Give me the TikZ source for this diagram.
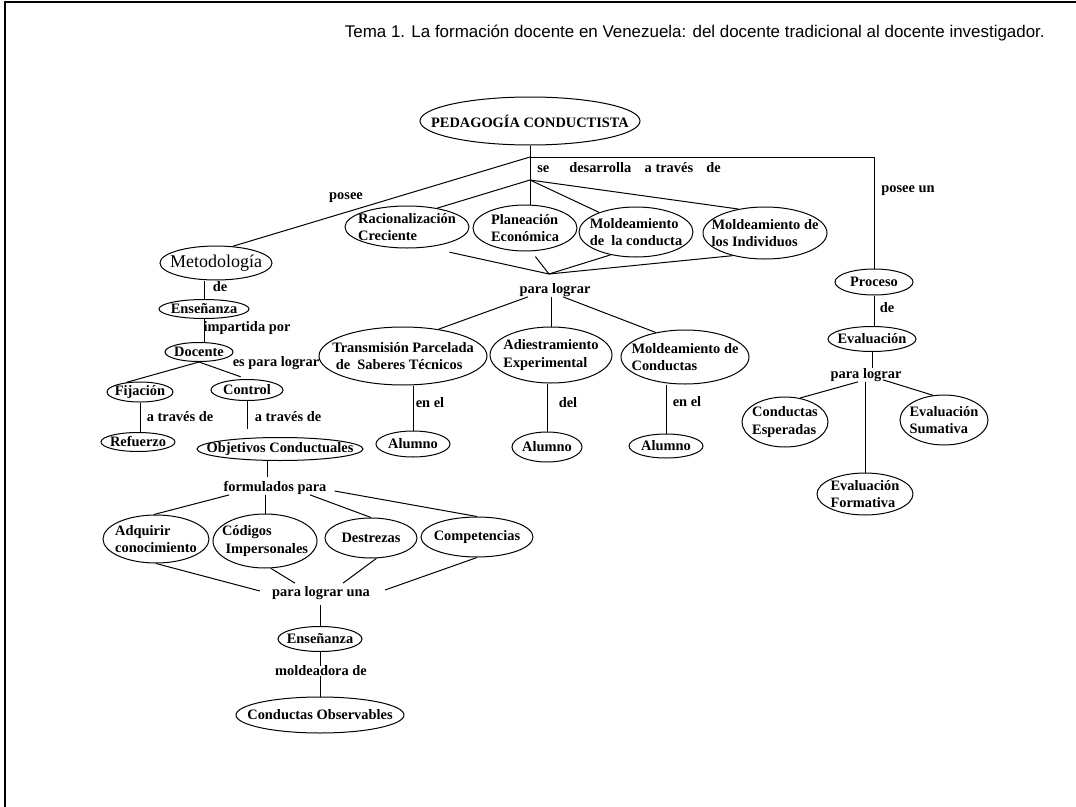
\documentclass[tikz,border=0pt]{standalone}
\usepackage{fontspec}
\setmainfont{Liberation Serif}
\newfontfamily\titlefont{Liberation Sans}
\usetikzlibrary{shapes.geometric,calc}

% ellipse bubble: outline node plus its text node
\newcommand\bubble[5]{%
  \node[ell={#3}{#4}] (#1) at (#2) {};
  \node[tx] (#1t) at (#1) {#5};}

\begin{document}
\begin{tikzpicture}[
  x=0.75pt, y=-0.75pt,
  ell/.style n args={2}{draw, ellipse, line width=0.75pt, inner sep=0pt,
    minimum width=#1*0.75pt, minimum height=#2*0.75pt},
  tx/.style={font=\fontsize{10.8}{13}\selectfont\bfseries, align=left, inner sep=0pt},
  lk/.style={font=\fontsize{10.8}{13}\selectfont\bfseries, inner sep=0pt},
  ln/.style={line width=0.75pt}
]
\useasboundingbox (0,0) rectangle (1076,807);

% page frame
\draw[line width=1.5pt] (5,807) -- (5,2) -- (1076,2);

% heading
\node[anchor=base east, inner sep=0pt, font=\titlefont\fontsize{12.7}{14}\selectfont] (title) at (1045,37)
  {Tema 1. La formación docente en Venezuela: del docente tradicional al docente investigador.};

% ---- concepts ----
\bubble{ped}{530,121}{220}{48}{PEDAGOGÍA CONDUCTISTA}
\bubble{met}{216,263}{112}{34}{\fontsize{13.5}{15}\selectfont\mdseries Metodología}
\bubble{ens1}{204,309}{90}{19}{Enseñanza}
\bubble{doc}{199,352}{68}{19}{Docente}
\bubble{fij}{140,392}{66}{20}{Fijación}
\bubble{con}{247,390}{72}{21}{Control}
\bubble{ref}{138,442}{74}{19}{Refuerzo}
\bubble{obj}{280,449}{166}{23}{Objetivos Conductuales}
\bubble{adq}{156,539}{106}{48}{Adquirir\\conocimiento}
\bubble{cod}{265,541}{104}{54}{Códigos\\\ Impersonales}
\bubble{des}{371,538}{92}{40}{Destrezas}
\bubble{com}{477,537}{112}{40}{Competencias}
\bubble{ens2}{320,639}{84}{25}{Enseñanza}
\bubble{cob}{320,715}{168}{36}{Conductas Observables}
\bubble{rac}{407,227}{124}{42}{Racionalización\\Creciente}
\bubble{pla}{525,228}{104}{46}{Planeación\\Económica}
\bubble{mo1}{636,232}{114}{50}{Moldeamiento\\de\ \ la conducta}
\bubble{mo2}{765,233}{124}{52}{Moldeamiento de\\los Individuos}
\bubble{tra}{403,356}{168}{58}{Transmisión Parcelada\\\ de\ \ Saberes Técnicos}
\bubble{adi}{551,355}{122}{56}{Adiestramiento\\Experimental}
\bubble{mdc}{685,357}{128}{54}{Moldeamiento de\\Conductas}
\bubble{al1}{413,444}{74}{26}{Alumno}
\bubble{al2}{547,447}{70}{30}{Alumno}
\bubble{al3}{666,446}{74}{24}{Alumno}
\bubble{pro}{874,282}{78}{26}{Proceso}
\bubble{eva}{872,339}{88}{25}{Evaluación}
\bubble{ces}{785,422}{86}{50}{Conductas\\Esperadas}
\bubble{esu}{944,420}{88}{50}{Evaluación\\Sumativa}
\bubble{efo}{865,494}{96}{42}{Evaluación\\Formativa}

% ---- linking phrases ----
\node[lk] (posee) at (346,198) {posee};
\node[lk, anchor=west] (sedes) at (537,168)
  {se\hspace{15pt}desarrolla\hspace{10pt}a través\hspace{10pt}de};
\node[lk] (poseeun) at (908,191) {posee un};
\node[lk] (pl1) at (555,290) {para lograr};
\node[lk] (enel1) at (430,403) {en el};
\node[lk] (del) at (568,403) {del};
\node[lk] (enel2) at (687,402) {en el};
\node[lk] (de2) at (887,308) {de};
\node[lk] (pl2) at (866,375) {para lograr};
\node[lk] (de1) at (220,287) {de};
\node[lk] (imp) at (247,328) {impartida por};
\node[lk] (epl) at (276,363) {es para lograr};
\node[lk] (at1) at (180,417) {a través de};
\node[lk] (at2) at (288,417) {a través de};
\node[lk] (fp) at (275,488) {formulados para};
\node[lk] (plu) at (321,593) {para lograr una};
\node[lk] (md) at (321,671) {moldeadora de};

% ---- junctions ----
\coordinate (jA) at (530,157);
\coordinate (jB) at (530,180);
\coordinate (jC) at (549,274);

% ---- connectors: top ----
\draw[ln] (ped.south) -- (ped.south |- pla.north);
\draw[ln] (jA) -- (jA -| pro.north) -- (pro.north);
\draw[ln] (jA) -- (met.45);
\draw[ln] (jB) -- (rac.32);
\draw[ln] (jB) -- (mo1.152);
\draw[ln] (jB) -- (mo2.138);
\draw[ln, shorten <=17pt] (rac.-45) -- (jC);
\draw[ln, shorten <=5pt] (pla.-75) -- (jC);
\draw[ln] (mo1.222) -- (jC);
\draw[ln] (mo2.215) -- (jC);
\draw[ln] ($(pl1.south)+(-27,0)$) -- (tra.37);
\draw[ln] (adi.north |- pl1.south) -- (adi.north);
\draw[ln] ($(pl1.south)+(8,0)$) -- (mdc.140);
\draw[ln] (tra.south -| al1.north) -- (al1.north);
\draw[ln] (adi.south -| al2.north) -- (al2.north);
\draw[ln] (mdc.south -| al3.north) -- (al3.north);

% ---- connectors: evaluation branch ----
\draw[ln] (pro.south) -- (pro.south |- eva.north);
\draw[ln] (eva.south) -- (eva.south |- pl2.north);
\draw[ln] ($(pl2.south)+(-8,0)$) -- (ces.58);
\draw[ln] (pl2.south -| efo.north) -- (efo.north);
\draw[ln] ($(pl2.south)+(17,-2)$) -- (esu.114);

% ---- connectors: method branch ----
\draw[ln] (met.south -| ens1.north) -- (ens1.north);
\draw[ln] (ens1.south) -- (ens1.south |- doc.north);
\draw[ln] (doc.south) -- (fij.145);
\draw[ln, shorten >=5pt] (doc.south) -- (con.north);
\draw[ln] (fij.south) -- (fij.south |- ref.north);
\draw[ln, shorten >=6pt] (con.south) -- (con.south |- obj.north);
\draw[ln] ($(obj.south)+(-13,0)$) -- ($(fp.north)+(-8,-4)$);
\draw[ln] ($(fp.south west)+(6,0)$) -- (adq.95);
\draw[ln] (fp.south -| cod.north) -- (cod.north);
\draw[ln] ($(fp.south)+(35,0)$) -- (des.north);
\draw[ln] ($(fp.east)+(8,3)$) -- (com.north);
\draw[ln] (adq.south) -- ($(plu.west)+(-12,-2)$);
\draw[ln] (cod.-78) -- ($(plu.north)+(-26,-3)$);
\draw[ln] (des.-75) -- ($(plu.north)+(22,-3)$);
\draw[ln] (com.south) -- ($(plu.east)+(15,-3)$);
\draw[ln, shorten <=4pt] (plu.south -| ens2.north) -- (ens2.north);
\draw[ln] (ens2.south) -- (ens2.south |- md.north);
\draw[ln] (md.south -| cob.north) -- (cob.north);
\end{tikzpicture}
\end{document}
